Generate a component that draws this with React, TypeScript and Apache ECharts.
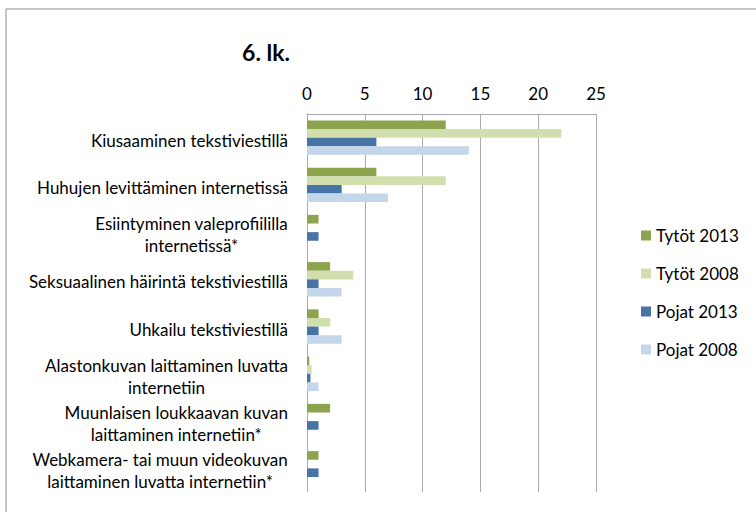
import React, { useEffect, useRef } from "react";
import * as echarts from "echarts";

const categories = [
  "Kiusaaminen tekstiviestillä",
  "Huhujen levittäminen internetissä",
  "Esiintyminen valeprofiililla\ninternetissä*",
  "Seksuaalinen häirintä tekstiviestillä",
  "Uhkailu tekstiviestillä",
  "Alastonkuvan laittaminen luvatta\ninternetiin",
  "Muunlaisen loukkaavan kuvan\nlaittaminen internetiin*",
  "Webkamera- tai muun videokuvan\nlaittaminen luvatta internetiin*",
];

const seriesNames = ["Tytöt 2013", "Tytöt 2008", "Pojat 2013", "Pojat 2008"];
const tytot2013 = [12, 6, 1, 2, 1, 0.2, 2, 1];
const tytot2008 = [22, 12, 0, 4, 2, 0.4, 0, 0];
const pojat2013 = [6, 3, 1, 1, 1, 0.3, 1, 1];
const pojat2008 = [14, 7, 0, 3, 3, 1, 0, 0];
const colors = ["#8CA44D", "#D1DFAE", "#4674A7", "#C4D6E9"];
const titleText = "6. lk.";

const FONT = "Lato, 'Noto Sans', sans-serif";
const FS = 17;

export default function App() {
  const ref = useRef<HTMLDivElement>(null);
  useEffect(() => {
    if (!ref.current) return;
    const chart = echarts.init(ref.current, undefined, { renderer: "svg" });
    const data = [tytot2013, tytot2008, pojat2013, pojat2008];
    chart.setOption({
      animation: false,
      textStyle: { fontFamily: FONT },
      legend: {
        orient: "vertical",
        left: 636,
        top: 222,
        icon: "rect",
        itemWidth: 10,
        itemHeight: 10,
        itemGap: 21,
        textStyle: { fontSize: FS, color: "#000", fontFamily: FONT },
        data: seriesNames,
      },
      grid: { left: 307, top: 114, width: 289, height: 378 },
      xAxis: {
        type: "value",
        position: "top",
        min: 0,
        max: 25,
        interval: 5,
        axisLine: { show: true, lineStyle: { color: "#ABABAB", width: 1 } },
        axisTick: { show: false },
        axisLabel: { fontSize: FS, color: "#000", margin: 12, fontFamily: FONT },
        splitLine: { show: true, lineStyle: { color: "#ABABAB", width: 1 } },
      },
      yAxis: {
        type: "category",
        inverse: true,
        data: categories,
        axisLine: { show: true, lineStyle: { color: "#ABABAB", width: 1 } },
        axisTick: { show: false },
        axisLabel: {
          margin: 19,
          interval: 0,
          padding: [5, 0, 0, 0],
          formatter: (v: string) =>
            v
              .split("\n")
              .map((l) => `{c|${l}}`)
              .join("\n"),
          rich: {
            c: {
              align: "center",
              fontSize: FS,
              fontFamily: FONT,
              color: "#000",
              lineHeight: 22,
            },
          },
        },
      },
      series: seriesNames.map((n, k) => ({
        name: n,
        type: "bar",
        data: data[k],
        itemStyle: { color: colors[k] },
        barGap: "0%",
        barCategoryGap: "27%",
      })),
      graphic: [
        {
          type: "rect",
          shape: { x: 6, y: 9, width: 900, height: 700 },
          style: { fill: "none", stroke: "#8C8C8C", lineWidth: 1 },
          silent: true,
        },
        {
          type: "text",
          x: 266,
          y: 52,
          style: {
            text: titleText,
            fontSize: 23,
            fontWeight: "bold",
            fontFamily: FONT,
            fill: "#000",
            align: "center",
            verticalAlign: "middle",
          },
        },
      ],
    });
    return () => chart.dispose();
  }, []);
  return (
    <div
      ref={ref}
      style={{ position: "fixed", left: 0, top: 0, width: 756, height: 512, background: "#fff" }}
    />
  );
}
